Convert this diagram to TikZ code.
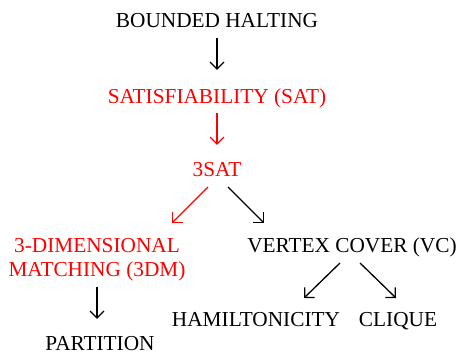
\documentclass[tikz,border=0pt]{standalone}
\usepackage{fontspec}
\setmainfont{Liberation Serif}
\usetikzlibrary{arrows.meta}
\begin{document}
\begin{tikzpicture}[x=1pt,y=1pt,
  lbl/.style={inner sep=0pt,anchor=base,font=\fontsize{21.3}{24}\selectfont},
  redtxt/.style={lbl,text=red},
  arr/.style={line width=1.3pt,-{Straight Barb[length=7pt,width=14pt,line width=1.3pt]}},
  redarr/.style={arr,draw=red}]
\useasboundingbox (0,0) rectangle (460,355);
\node[lbl] (bh) at (217,327.7) {BOUNDED HALTING};
\node[redtxt] (sat) at (217,251) {SATISFIABILITY (SAT)};
\node[redtxt] (tsat) at (217,178) {3SAT};
\node[redtxt,align=center] (tdm) at (97,78) {3-DIMENSIONAL\\MATCHING (3DM)};
\node[lbl] (vc) at (352,102) {VERTEX COVER (VC)};
\node[lbl] (ham) at (256,28) {HAMILTONICITY};
\node[lbl] (clq) at (398,28) {CLIQUE};
\node[lbl] (part) at (100,4) {PARTITION};
\draw[arr] ([yshift=-10.3pt]bh.base) -- ([yshift=34pt]sat.base);
\draw[redarr] ([yshift=-9pt]sat.base) -- ([yshift=32pt]tsat.base);
\draw[redarr] ([shift={(-9pt,-10pt)}]tsat.base) -- ([shift={(75pt,54pt)}]tdm.base);
\draw[arr] ([shift={(11pt,-10pt)}]tsat.base) -- ([shift={(-88pt,30pt)}]vc.base);
\draw[arr] ([shift={(-12pt,-10pt)}]vc.base) -- ([shift={(48pt,29pt)}]ham.base);
\draw[arr] ([shift={(8pt,-10pt)}]vc.base) -- ([shift={(-2pt,29pt)}]clq.base);
\draw[arr] ([yshift=-10pt]tdm.base) -- ([shift={(-3pt,32pt)}]part.base);
\end{tikzpicture}
\end{document}
